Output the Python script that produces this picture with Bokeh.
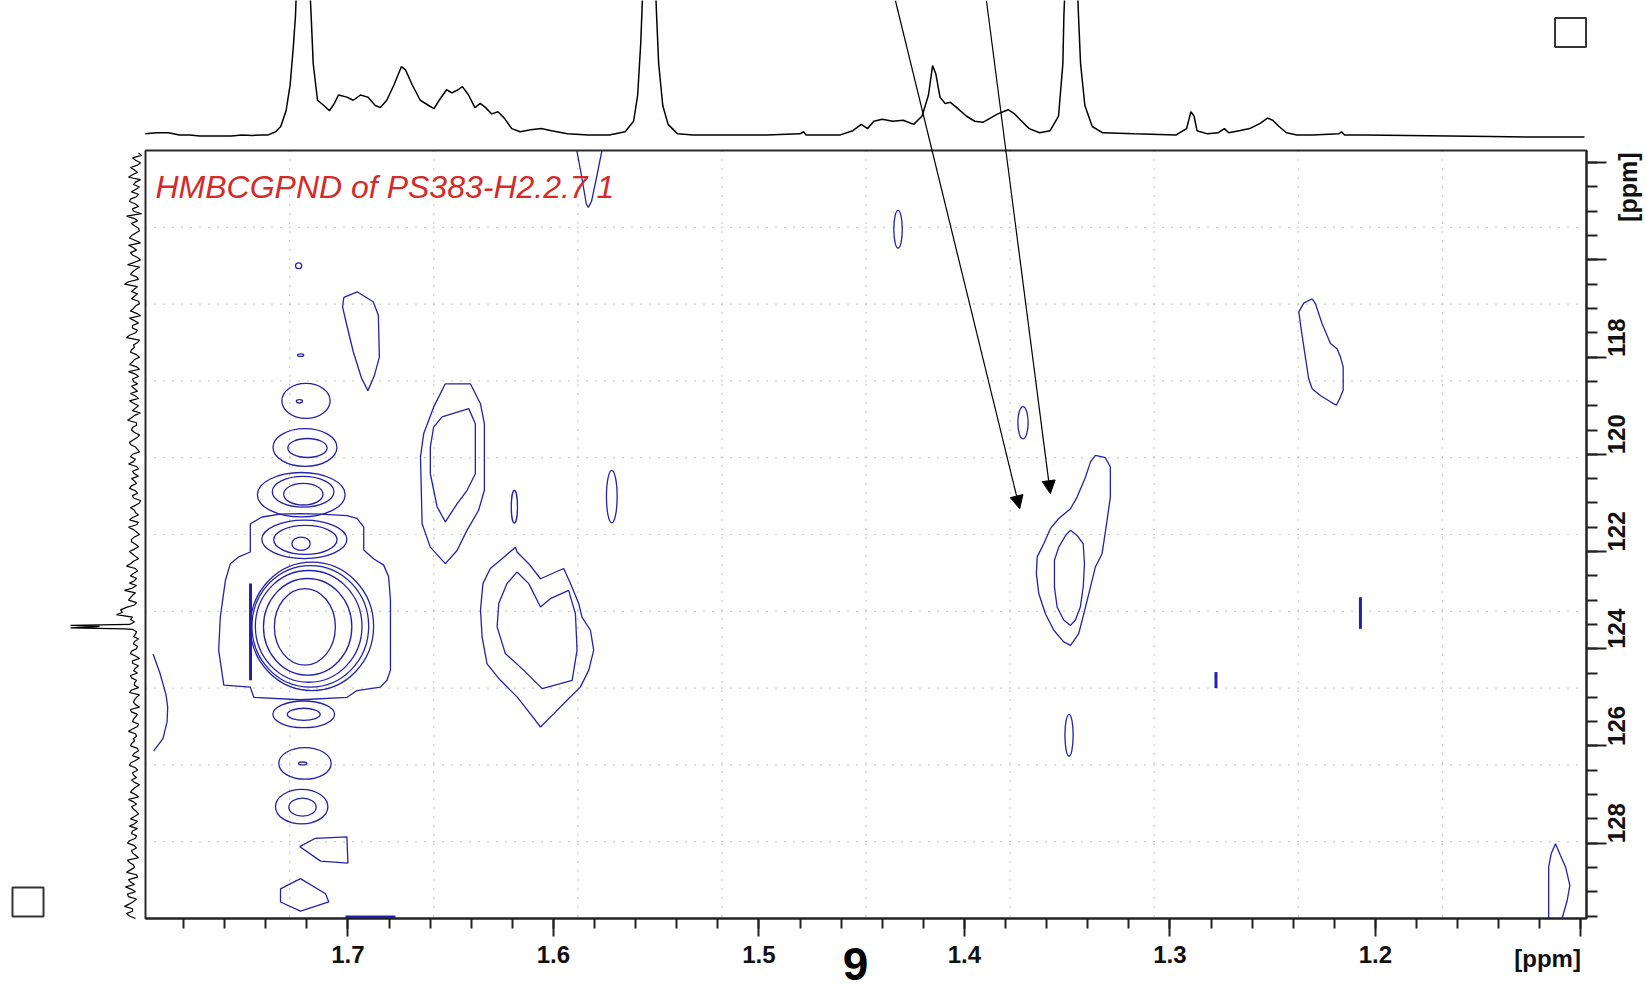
import math
from bokeh.plotting import figure
from bokeh.models import Range1d, FixedTicker, Label, Arrow, NormalHead, LinearAxis
from bokeh.embed import file_html
from bokeh.resources import INLINE

# ---------------- data ----------------
# 1H projection (F2 trace on top): chemical shift [ppm] and intensity (a.u.; very tall peaks are cut by the window)
h1_ppm = [1.7986, 1.7930, 1.7873, 1.7820, 1.7771, 1.7720, 1.7669, 1.7618, 1.7567, 1.7516, 1.7465, 1.7420,
          1.7388, 1.7352, 1.7327, 1.7301, 1.7281, 1.7266, 1.7255, 1.7240, 1.7220, 1.7200, 1.7179, 1.7169,
          1.7148, 1.7117, 1.7090, 1.7066, 1.7046, 1.7005, 1.6974, 1.6939, 1.6903, 1.6867, 1.6842, 1.6811,
          1.6775, 1.6740, 1.6720, 1.6688, 1.6648, 1.6607, 1.6581, 1.6556, 1.6520, 1.6494, 1.6464, 1.6443,
          1.6413, 1.6382, 1.6356, 1.6330, 1.6300, 1.6270, 1.6239, 1.6203, 1.6162, 1.6110, 1.6060, 1.6009,
          1.5932, 1.5830, 1.5728, 1.5651, 1.5610, 1.5590, 1.5575, 1.5570, 1.5553, 1.5534, 1.5515, 1.5498,
          1.5488, 1.5468, 1.5442, 1.5396, 1.5320, 1.5115, 1.4962, 1.4800, 1.4783, 1.4770, 1.4604, 1.4543,
          1.4502, 1.4471, 1.4441, 1.4400, 1.4349, 1.4298, 1.4247, 1.4206, 1.4175, 1.4155, 1.4139, 1.4119,
          1.4094, 1.4068, 1.4032, 1.3991, 1.3950, 1.3910, 1.3874, 1.3838, 1.3812, 1.3787, 1.3756, 1.3726,
          1.3685, 1.3634, 1.3583, 1.3542, 1.3521, 1.3516, 1.3498, 1.3480, 1.3462, 1.3445, 1.3435, 1.3414,
          1.3378, 1.3327, 1.3174, 1.2970, 1.2919, 1.2898, 1.2883, 1.2868, 1.2817, 1.2766, 1.2735, 1.2714,
          1.2663, 1.2612, 1.2561, 1.2525, 1.2500, 1.2469, 1.2433, 1.2382, 1.2306, 1.2178, 1.2165, 1.2150,
          1.2050, 1.1846, 1.1642, 1.1437, 1.1233, 1.0983]
h1_int = [1, 2, 2, 0, 0, -1, -1, -1, -1, 0, -0.5, 0,
          0, 3, 8, 23, 48, 83, 114, 200, 400, 200, 114, 68,
          33, 28, 23, 30, 38, 36, 33, 38, 36, 28, 26, 33,
          48, 65, 62, 48, 33, 28, 25, 33, 43, 40, 43, 46,
          38, 26, 30, 26, 20, 22, 16, 6, 3, 5, 6, 4,
          1, 0, 0, 3, 13, 38, 88, 114, 200, 400, 200, 114,
          68, 28, 10, 1, 0, 0, 0, 1, 3, 0, 0, 4,
          10, 6, 13, 15, 13, 14, 10, 18, 38, 66, 58, 36,
          30, 31, 25, 18, 13, 12, 16, 20, 22, 24, 20, 14,
          6, 2, 4, 18, 68, 114, 200, 400, 200, 114, 68, 28,
          8, 2, 1, 0, 6, 22, 18, 4, 1, 2, 6, 2,
          4, 6, 11, 16, 14, 8, 2, 0, 0, 1, 3, 0,
          0, -0.5, -1, -1.5, -2, -2]

# 13C projection (F1 trace on the left): first point, increment, intensities (two interleaved point sets)
c13_start = 113.8
c13_step = 0.1
c13_int = [6, 12, 4, 14, 7, 16, 9, 5, 13, 8,
           15, 6, 11, 18, 7, 10, 5, 13, 9, 16,
           8, 12, 4, 17, 9, 14, 6, 20, 10, 7,
           13, 5, 11, 8, 15, 6, 12, 9, 18, 7,
           10, 14, 5, 12, 8, 16, 6, 11, 13, 7,
           9, 15, 6, 12, 10, 17, 8, 13, 5, 11,
           14, 7, 12, 9, 16, 6, 10, 13, 8, 15,
           7, 11, 5, 14, 9, 12, 6, 16, 8, 10,
           13, 6, 15, 9, 11, 18, 7, 14, 10, 8,
           20, 12, 16, 10, 24, 28, 14, 15, 12, 9,
           6, 11, 8, 14, 5, 12, 9, 7, 13, 10,
           6, 15, 8, 11, 5, 13, 9, 12, 7, 16,
           8, 10, 14, 6, 12, 9, 15, 7, 11, 13,
           5, 12, 9, 16, 8, 11, 6, 14, 10, 7,
           13, 9, 17, 8, 12, 6, 15, 10, 18, 7,
           14, 19, 9, 16, 11, 20, 12, 15]
c13_start_mid = 113.85
c13_int_mid = [3, 9, 7, 10, 12, 4, 11, 9, 6, 14,
               9, 12, 3, 10, 13, 6, 9, 15, 4, 11,
               14, 7, 10, 5, 12, 8, 16, 7, 13, 10,
               6, 9, 14, 4, 10, 12, 7, 15, 5, 11,
               13, 8, 10, 15, 5, 9, 12, 7, 10, 14,
               6, 11, 9, 4, 13, 8, 12, 10, 7, 15,
               9, 5, 14, 11, 8, 12, 6, 10, 13, 9,
               12, 4, 9, 10, 6, 15, 8, 11, 5, 13,
               9, 10, 12, 6, 14, 9, 11, 8, 15, 12,
               9, 14, 8, 18, 22, 12, 10, 50, 8, 11,
               10, 7, 13, 9, 12, 6, 11, 14, 8, 10,
               13, 5, 10, 9, 14, 7, 11, 6, 12, 9,
               11, 13, 7, 10, 5, 14, 9, 12, 8, 10,
               9, 14, 6, 11, 13, 8, 10, 7, 15, 12,
               8, 15, 10, 13, 9, 17, 11, 14, 8, 16,
               10, 13, 17, 8, 15, 12, 18, 9]
c13_spike_ppm = [123.52, 123.54, 123.57, 123.59]
c13_spike_int = [74, 45, 74, 20]

# 2D cross peaks: contour outlines in (1H ppm, 13C ppm)
peak_158_x = [1.5886, 1.5862, 1.5840, 1.5830, 1.5815, 1.5790, 1.5764]
peak_158_y = [113.75, 114.30, 114.85, 114.92, 114.80, 114.30, 113.75]

peak_169_x = [1.7020, 1.6954, 1.6877, 1.6852, 1.6847, 1.6872, 1.6903, 1.6934, 1.6974, 1.7005, 1.7026, 1.7020]
peak_169_y = [116.77, 116.66, 116.86, 117.14, 118.00, 118.39, 118.69, 118.43, 117.89, 117.35, 116.97, 116.77]

peak_165_outer_x = [1.6526, 1.6404, 1.6355, 1.6336, 1.6336, 1.6364, 1.6420, 1.6469, 1.6526, 1.6599, 1.6639, 1.6647, 1.6631, 1.6583, 1.6526]
peak_165_outer_y = [118.55, 118.55, 118.96, 119.37, 120.74, 121.15, 121.56, 121.98, 122.25, 121.91, 121.43, 120.05, 119.57, 119.03, 118.55]
peak_165_inner_x = [1.6542, 1.6412, 1.6380, 1.6380, 1.6420, 1.6469, 1.6526, 1.6566, 1.6599, 1.6599, 1.6583, 1.6542]
peak_165_inner_y = [119.23, 119.06, 119.37, 120.40, 120.74, 121.02, 121.39, 121.08, 120.40, 119.85, 119.44, 119.23]

peak_160_outer_x = [1.6185, 1.6177, 1.6120, 1.6063, 1.5950, 1.5917, 1.5877, 1.5861, 1.5820, 1.5804, 1.5828, 1.5869,
                    1.5934, 1.5999, 1.6063, 1.6112, 1.6177, 1.6258, 1.6323, 1.6347, 1.6355, 1.6343, 1.6307, 1.6250, 1.6185]
peak_160_outer_y = [121.91, 122.01, 122.25, 122.56, 122.35, 122.66, 123.07, 123.35, 123.62, 124.03, 124.44, 124.79,
                    125.06, 125.34, 125.61, 125.34, 124.99, 124.65, 124.31, 123.76, 123.21, 122.66, 122.35, 122.15, 121.91]
peak_160_inner_x = [1.6177, 1.6120, 1.6063, 1.6015, 1.5926, 1.5893, 1.5885, 1.5909, 1.5966, 1.6055, 1.6145, 1.6234, 1.6274, 1.6266, 1.6226, 1.6177]
peak_160_inner_y = [122.42, 122.66, 123.14, 122.97, 122.80, 123.28, 124.03, 124.65, 124.72, 124.82, 124.44, 124.10, 123.55, 123.07, 122.66, 122.42]

peak_134_outer_x = [1.3363, 1.3314, 1.3290, 1.3290, 1.3306, 1.3330, 1.3363, 1.3395, 1.3419, 1.3444, 1.3484, 1.3517,
                    1.3565, 1.3606, 1.3638, 1.3650, 1.3646, 1.3614, 1.3582, 1.3541, 1.3484, 1.3452, 1.3411, 1.3387, 1.3363]
peak_134_outer_y = [120.02, 120.07, 120.26, 120.88, 121.36, 122.04, 122.32, 122.87, 123.28, 123.69, 123.93, 123.86,
                    123.62, 123.28, 122.87, 122.46, 122.11, 121.84, 121.53, 121.32, 121.12, 120.88, 120.47, 120.16, 120.02]
peak_134_inner_x = [1.3484, 1.3452, 1.3422, 1.3416, 1.3422, 1.3436, 1.3460, 1.3484, 1.3517, 1.3549, 1.3562, 1.3562, 1.3541, 1.3508, 1.3484]
peak_134_inner_y = [121.56, 121.67, 121.84, 122.25, 122.73, 123.14, 123.41, 123.52, 123.41, 123.14, 122.73, 122.18, 121.91, 121.67, 121.56]

peak_122_x = [1.2308, 1.2292, 1.2260, 1.2219, 1.2187, 1.2170, 1.2157, 1.2157, 1.2174, 1.2190, 1.2219, 1.2268, 1.2308, 1.2325, 1.2341, 1.2362, 1.2373, 1.2349, 1.2308]
peak_122_y = [116.80, 116.90, 117.31, 117.72, 117.83, 118.00, 118.20, 118.68, 118.85, 118.99, 118.92, 118.79, 118.65, 118.44, 118.00, 117.41, 117.07, 116.89, 116.80]

peak_111_x = [1.1157, 1.1157, 1.1145, 1.1124, 1.1100, 1.1075, 1.1054, 1.1067, 1.1092]
peak_111_y = [129.55, 128.49, 128.22, 128.01, 128.25, 128.49, 128.87, 129.18, 129.55]

edge_180_x = [1.7948, 1.7915, 1.7885, 1.7877, 1.7880, 1.7900, 1.7945]
edge_180_y = [124.11, 124.50, 124.95, 125.20, 125.50, 125.85, 126.10]

# big 1.72 ppm streak: outer envelope and lower fragments
peak_172_env_x = [1.7475, 1.7418, 1.7329, 1.7231, 1.7134, 1.7004, 1.6956, 1.6923, 1.6923, 1.6875, 1.6826, 1.6802,
                  1.6793, 1.6793, 1.6810, 1.6842, 1.6956, 1.7004, 1.7231, 1.7458, 1.7475, 1.7604, 1.7629, 1.7621,
                  1.7596, 1.7572, 1.7531, 1.7475, 1.7475]
peak_172_env_y = [121.43, 121.29, 121.23, 121.22, 121.23, 121.26, 121.32, 121.50, 121.97, 122.15, 122.28, 122.52,
                  123.00, 124.44, 124.65, 124.79, 124.86, 125.00, 125.05, 125.00, 124.79, 124.75, 124.03, 123.35,
                  122.59, 122.25, 122.11, 122.01, 121.43]
peak_172_p1_x = [1.7235, 1.7158, 1.7005, 1.7000, 1.7133, 1.7235]
peak_172_p1_y = [128.07, 127.90, 127.87, 128.41, 128.37, 128.07]
peak_172_p2_x = [1.7231, 1.7109, 1.7093, 1.7231, 1.7328, 1.7328, 1.7231]
peak_172_p2_y = [128.73, 129.04, 129.21, 129.40, 129.21, 128.94, 128.73]

# closed elliptical contours: centre (1H, 13C) and full widths
oval_x = [1.4323, 1.7240, 1.7230, 1.7204, 1.7236, 1.7209, 1.7197, 1.7227, 1.7218, 1.7217,
          1.7228, 1.7207, 1.7212, 1.72095, 1.7196, 1.7191, 1.7183, 1.7175, 1.6190, 1.5716,
          1.3715, 1.3491, 1.7215, 1.7215, 1.7209, 1.7220, 1.7225, 1.7221]
oval_y = [115.37, 116.12, 117.96, 118.90, 118.91, 119.86, 119.87, 120.83, 120.77, 120.82,
          121.84, 121.76, 121.75, 123.55, 123.55, 123.54, 123.54, 123.54, 121.08, 120.87,
          119.35, 125.78, 125.35, 125.35, 126.36, 126.36, 127.25, 127.26]
oval_w = [0.0041, 0.003, 0.003, 0.0235, 0.003, 0.0311, 0.0191, 0.0427, 0.030, 0.0191,
          0.0089, 0.0308, 0.0414, 0.0297, 0.043, 0.0519, 0.0568, 0.060, 0.003, 0.0052,
          0.005, 0.004, 0.030, 0.016, 0.0255, 0.004, 0.0255, 0.0133]
oval_h = [0.78, 0.12, 0.05, 0.72, 0.07, 0.775, 0.391, 0.912, 0.631, 0.446,
          0.274, 0.597, 0.79, 1.577, 1.99, 2.30, 2.50, 2.64, 0.67, 1.08,
          0.665, 0.86, 0.55, 0.25, 0.65, 0.06, 0.71, 0.37]

# short vertical streaks (1H, 13C start, 13C end)
dash_x = [1.2073, 1.2776, 1.7474]
dash_y0 = [122.94, 124.48, 122.66]
dash_y1 = [123.59, 124.81, 124.65]
# contour running along the lower border
floor_x0, floor_x1, floor_y = 1.7012, 1.6769, 129.52

# annotation arrows (1H, 13C at the tip); they start at the top of the page
arrow_top_x = [1.4336, 1.3893]
arrow_tip_x = [1.3731, 1.3582]
arrow_tip_y = [121.12, 120.81]

title_text = "HMBCGPND of PS383-H2.2.7 1"
x_major = [1.1, 1.2, 1.3, 1.4, 1.5, 1.6, 1.7]
y_major = [114, 116, 118, 120, 122, 124, 126, 128]

# ---------------- layout constants ----------------
H_LEFT, H_RIGHT = 1.7985, 1.0973      # 1H limits of the 2D box
C_TOP, C_BOT = 113.75, 129.55         # 13C limits of the 2D box
PX_H = 2055.0                         # px per ppm (1H)
PX_C = 48.6                           # px per ppm (13C)
PAD_LEFT, PAD_TOP = 145, 150          # room for projections
W, H = 1646, 990
PAD_RIGHT, PAD_BOTTOM = 60, 72        # room for the axes

x_start = H_LEFT + PAD_LEFT / PX_H
x_end = H_RIGHT - PAD_RIGHT / PX_H
y_end = C_TOP - PAD_TOP / PX_C
y_start = C_BOT + PAD_BOTTOM / PX_C

p = figure(width=W, height=H, output_backend="svg", toolbar_location=None,
           x_range=Range1d(x_start, x_end), y_range=Range1d(y_start, y_end),
           x_axis_location=None, y_axis_location=None,
           min_border_left=0, min_border_top=0, min_border_right=0, min_border_bottom=0,
           background_fill_color="white", border_fill_color="white")
p.outline_line_color = None
p.grid.visible = False
p.title.visible = False

# projection ranges
base_u = 134.4 / 1.0497
p.extra_y_ranges = {"spec": Range1d(-(H - 134.4) / 1.0497, base_u)}
p.extra_x_ranges = {"proj": Range1d(PAD_LEFT - 1, PAD_LEFT - 1 - W)}

# dotted grid (10 divisions in each direction)
gx = [H_LEFT - i * (H_LEFT - H_RIGHT) / 10 for i in range(1, 10)]
gy = [C_TOP + i * (C_BOT - C_TOP) / 10 for i in range(1, 10)]
grid_style = dict(line_color="#9c9c9c", line_width=1.2, line_dash="1 8")
p.segment(x0=gx, y0=[C_TOP] * 9, x1=gx, y1=[C_BOT] * 9, **grid_style)
p.segment(x0=[H_LEFT] * 9, y0=gy, x1=[H_RIGHT] * 9, y1=gy, **grid_style)

# contours
BLUE = "#2222aa"
cstyle = dict(line_color=BLUE, line_width=1.3)
polys_x = [peak_158_x, peak_169_x, peak_165_outer_x, peak_165_inner_x, peak_160_outer_x, peak_160_inner_x,
           peak_134_outer_x, peak_134_inner_x, peak_122_x, peak_111_x, edge_180_x, peak_172_env_x,
           peak_172_p1_x, peak_172_p2_x]
polys_y = [peak_158_y, peak_169_y, peak_165_outer_y, peak_165_inner_y, peak_160_outer_y, peak_160_inner_y,
           peak_134_outer_y, peak_134_inner_y, peak_122_y, peak_111_y, edge_180_y, peak_172_env_y,
           peak_172_p1_y, peak_172_p2_y]
p.multi_line(xs=polys_x, ys=polys_y, **cstyle)
p.ellipse(x=oval_x, y=oval_y, width=oval_w, height=oval_h, fill_color=None, **cstyle)
p.segment(x0=dash_x, y0=dash_y0, x1=dash_x, y1=dash_y1, line_color=BLUE, line_width=3)
p.segment(x0=[floor_x0], y0=[floor_y], x1=[floor_x1], y1=[floor_y], line_color=BLUE, line_width=3)

# box of the 2D spectrum
p.quad(left=[H_LEFT], right=[H_RIGHT], top=[C_TOP], bottom=[C_BOT], fill_color=None,
       line_color="#2b2b2b", line_width=2)

# 1H projection
p.line(h1_ppm, h1_int, y_range_name="spec", line_color="black", line_width=1.5)

# 13C projection
c13_pts = sorted([(round(c13_start + i * c13_step, 3), v) for i, v in enumerate(c13_int)] +
                 [(round(c13_start_mid + i * c13_step, 3), v) for i, v in enumerate(c13_int_mid)] +
                 list(zip(c13_spike_ppm, c13_spike_int)))
p.line([v for _, v in c13_pts], [c for c, _ in c13_pts], x_range_name="proj", line_color="black", line_width=1.2)

# axes, pinned to the edges of the 2D box
xa = LinearAxis(fixed_location=C_BOT, bounds=(H_RIGHT, H_LEFT),
                ticker=FixedTicker(ticks=x_major, minor_ticks=[round(1.10 + 0.02 * k, 2) for k in range(35)]))
xa.major_label_overrides = {1.1: ""}
ya = LinearAxis(fixed_location=H_RIGHT, bounds=(C_TOP, C_BOT),
                ticker=FixedTicker(ticks=y_major, minor_ticks=[114 + 0.5 * k for k in range(32)]))
ya.major_label_overrides = {114: "", 116: ""}
ya.major_label_orientation = math.pi / 2
for ax, (maj, mnr) in ((xa, (18, 10)), (ya, (20, 11))):
    ax.axis_line_color = "#222222"
    ax.axis_line_width = 2
    ax.major_tick_line_color = "#222222"
    ax.major_tick_line_width = 2
    ax.minor_tick_line_color = "#222222"
    ax.minor_tick_line_width = 2
    ax.major_tick_in = 0
    ax.major_tick_out = maj
    ax.minor_tick_in = 0
    ax.minor_tick_out = mnr
    ax.major_label_text_font = "Liberation Sans"
    ax.major_label_text_font_style = "bold"
    ax.major_label_text_font_size = "24px"
    ax.major_label_text_color = "#111111"
    ax.major_label_standoff = 10
p.add_layout(xa, "below")
p.add_layout(ya, "right")

# texts
def to_x(px):
    return x_start - px / PX_H

def to_y(py):
    return y_end + py / PX_C

p.add_layout(Label(x=to_x(155), y=to_y(186), text=title_text, text_font="Liberation Sans",
                   text_font_style="italic", text_font_size="32px", text_color="#d42a2a",
                   text_baseline="alphabetic"))
p.add_layout(Label(x=1.10, y=to_y(958), text="[ppm]", text_font="Liberation Sans", text_font_style="bold",
                   text_font_size="24px", text_align="right", text_baseline="middle", text_color="#111111"))
p.add_layout(Label(x=to_x(1627), y=to_y(152), text="[ppm]", text_font="Liberation Sans", text_font_style="bold",
                   text_font_size="25px", text_align="right", text_baseline="middle", angle=math.pi / 2,
                   text_color="#111111"))
p.add_layout(Label(x=to_x(855), y=to_y(963), text="9", text_font="Liberation Sans", text_font_style="bold",
                   text_font_size="46px", text_align="center", text_baseline="middle", text_color="black"))

# arrows
for xt, xe, ye in zip(arrow_top_x, arrow_tip_x, arrow_tip_y):
    p.add_layout(Arrow(end=NormalHead(size=13, fill_color="black", line_color="black"),
                       x_start=xt, y_start=y_end, x_end=xe, y_end=ye, line_color="black", line_width=1.2))

# window-corner boxes
p.rect(x=[to_x(1570), to_x(27.5)], y=[to_y(32), to_y(901.5)], width=31, height=29,
       width_units="screen", height_units="screen", fill_color=None, line_color="#333333", line_width=2)

open("out.html", "w").write(file_html(p, INLINE))
